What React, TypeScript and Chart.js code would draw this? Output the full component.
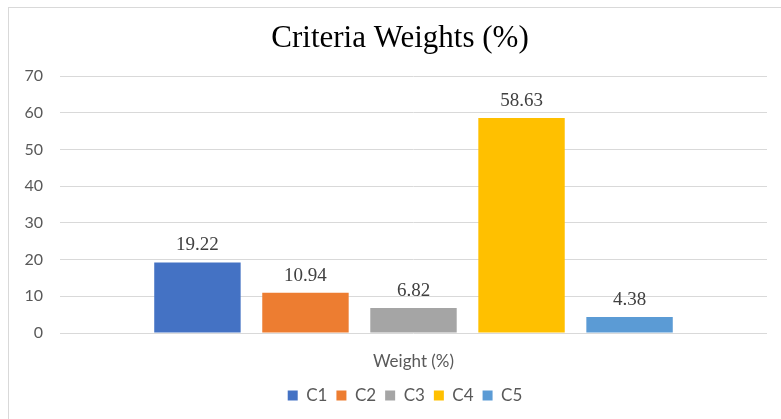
import React, { useEffect, useRef } from "react";
import { Chart, registerables } from "chart.js";

Chart.register(...registerables);

const categories = ["Weight (%)"];
const seriesNames = ["C1", "C2", "C3", "C4", "C5"];
const seriesValues = [19.22, 10.94, 6.82, 58.63, 4.38];
const seriesColors = ["#4472C4", "#ED7D31", "#A5A5A5", "#FFC000", "#5B9BD5"];
const titleText = "Criteria Weights (%)";
const yMin = 0;
const yMax = 70;
const yStep = 10;

const valueLabelPlugin = {
  id: "valueLabels",
  afterDatasetsDraw(chart: any) {
    const ctx = chart.ctx;
    ctx.save();
    ctx.font = "19px 'Liberation Serif', 'Times New Roman', serif";
    ctx.fillStyle = "#404040";
    ctx.textAlign = "center";
    ctx.textBaseline = "alphabetic";
    chart.data.datasets.forEach((ds: any, i: number) => {
      const meta = chart.getDatasetMeta(i);
      meta.data.forEach((el: any, j: number) => {
        const v = ds.data[j];
        ctx.fillText(Number(v).toFixed(2), el.x, el.y - 12);
      });
    });
    ctx.restore();
  },
};

// Nudge the title and legend boxes to sit where the reference places them
const boxShiftPlugin = {
  id: "boxShift",
  afterLayout(chart: any) {
    const t = chart.titleBlock;
    if (t) {
      t.left += 12;
      t.right += 12;
    }
    const l = chart.legend;
    if (l) {
      l.left += 17;
      l.right += 17;
    }
  },
};

export default function App() {
  const ref = useRef<HTMLCanvasElement>(null);
  useEffect(() => {
    if (!ref.current) return;
    const chart = new Chart(ref.current, {
      type: "bar",
      data: {
        labels: categories,
        datasets: seriesNames.map((name, i) => ({
          label: name,
          data: [seriesValues[i]],
          backgroundColor: seriesColors[i],
          borderWidth: 0,
          barPercentage: 0.8,
          categoryPercentage: 0.764,
        })),
      },
      options: {
        responsive: false,
        animation: false,
        devicePixelRatio: 1,
        layout: { padding: { left: 0, right: 14, top: 0, bottom: 5 } },
        plugins: {
          title: {
            display: true,
            text: titleText,
            color: "#000000",
            font: { family: "'Liberation Serif', 'Times New Roman', serif", size: 31, weight: "normal" },
            padding: { top: 12, bottom: 19 },
          },
          legend: {
            position: "bottom",
            labels: {
              boxWidth: 10,
              boxHeight: 10,
              padding: 9,
              color: "#595959",
              font: { family: "Lato, 'Open Sans', sans-serif", size: 17 },
            },
          },
          tooltip: { enabled: false },
        },
        scales: {
          x: {
            grid: { display: false, drawTicks: false },
            border: { display: false },
            ticks: {
              color: "#595959",
              padding: 18,
              font: { family: "Lato, 'Open Sans', sans-serif", size: 17 },
            },
            afterFit: (scale: any) => {
              scale.height = 45;
            },
          },
          y: {
            min: yMin,
            max: yMax,
            grid: { color: "#d9d9d9", lineWidth: 1, drawTicks: false },
            border: { display: false },
            ticks: {
              stepSize: yStep,
              color: "#595959",
              padding: 17,
              font: { family: "Lato, 'Open Sans', sans-serif", size: 16 },
            },
            afterFit: (scale: any) => {
              scale.width = 51;
            },
          },
        },
      },
      plugins: [valueLabelPlugin, boxShiftPlugin],
    } as any);
    return () => chart.destroy();
  }, []);
  return (
    <div
      style={{
        position: "absolute",
        left: 8,
        top: 7,
        width: 773,
        height: 412,
        borderTop: "1px solid #d9d9d9",
        borderLeft: "1px solid #d9d9d9",
        boxSizing: "border-box",
        background: "#ffffff",
      }}
    >
      <canvas ref={ref} width={772} height={411} style={{ display: "block" }} />
    </div>
  );
}
